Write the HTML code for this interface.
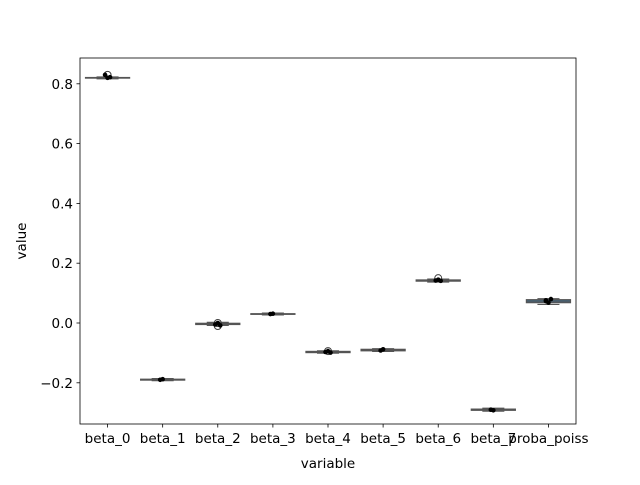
<!DOCTYPE html>
<html><head><meta charset="utf-8"><style>
body{margin:0;background:#fff;}
text{font-family:"DejaVu Sans","Liberation Sans",sans-serif;font-size:13.5px;fill:#000;}
</style></head><body>
<svg id="c" width="640" height="480" xmlns="http://www.w3.org/2000/svg"></svg>
<script>
const categories=["beta_0","beta_1","beta_2","beta_3","beta_4","beta_5","beta_6","beta_7","proba_poiss"];
const q1=[0.819,-0.191,-0.005,0.029,-0.099,-0.093,0.140,-0.292,0.068];
const medians=[0.820,-0.190,-0.003,0.030,-0.097,-0.091,0.142,-0.290,0.073];
const q3=[0.821,-0.188,-0.001,0.031,-0.095,-0.088,0.144,-0.288,0.078];
const whiskLo=[0.817,-0.193,-0.008,0.027,-0.101,-0.095,0.137,-0.295,0.062];
const whiskHi=[0.823,-0.186,0.002,0.033,-0.093,-0.086,0.147,-0.285,0.081];
const outliers=[[0.830],[],[0.000,-0.010],[],[-0.094],[],[0.150],[],[]];
const points=[[0.830,0.820,0.822],[-0.190,-0.188],[-0.005,0.000,-0.008],[0.030,0.031],[-0.097,-0.094,-0.099],[-0.092,-0.088],[0.142,0.145,0.141],[-0.290,-0.292],[0.073,0.068,0.080,0.076]];
const yTicks=[-0.2,0.0,0.2,0.4,0.6,0.8];
const colors=["#3274a1","#e1812c","#3a923a","#c03d3e","#9372b2","#845b53","#d684bd","#7f7f7f","#3274a1"];
const L=80,R=576,T=58,B=424;
const y=v=>323-v*299;
const bw=(R-L)/categories.length;
const x=i=>L+bw*(i+0.5);
const svg=document.getElementById('c');
const NS="http://www.w3.org/2000/svg";
function mk(t,a,p){const e=document.createElementNS(NS,t);for(const k in a)e.setAttribute(k,a[k]);(p||svg).appendChild(e);return e;}
categories.forEach((c,i)=>{
 const cx=x(i),hw=bw*0.4,g=mk('g',{});
 
 
 const ec='#555',sw=1.2;
 mk('line',{x1:cx,x2:cx,y1:y(whiskLo[i]),y2:y(q1[i]),stroke:ec,'stroke-width':sw},g);
 mk('line',{x1:cx,x2:cx,y1:y(q3[i]),y2:y(whiskHi[i]),stroke:ec,'stroke-width':sw},g);
 mk('line',{x1:cx-hw/2,x2:cx+hw/2,y1:y(whiskLo[i]),y2:y(whiskLo[i]),stroke:ec,'stroke-width':sw},g);
 mk('line',{x1:cx-hw/2,x2:cx+hw/2,y1:y(whiskHi[i]),y2:y(whiskHi[i]),stroke:ec,'stroke-width':sw},g);
 mk('rect',{x:cx-hw,y:y(q3[i]),width:2*hw,height:Math.max(0.5,y(q1[i])-y(q3[i])),fill:colors[i],stroke:ec,'stroke-width':sw},g);
 mk('line',{x1:cx-hw,x2:cx+hw,y1:y(medians[i]),y2:y(medians[i]),stroke:ec,'stroke-width':sw},g);
 outliers[i].forEach(v=>{const o=mk('circle',{cx:cx,cy:y(v),r:3.5,fill:'none',stroke:'#3f3f3f','stroke-width':1},g);
  
  });
 points[i].forEach((v,j)=>{const p=mk('circle',{cx:cx+((j%3)-1)*2.5,cy:y(v),r:2.3,fill:'#000'},g);
  
  });
 mk('line',{x1:cx,x2:cx,y1:B,y2:B+3.5,stroke:'#000','stroke-width':0.8});
 const t=mk('text',{x:cx,y:B+19,'text-anchor':'middle'});t.textContent=c;
 
 
});
yTicks.forEach(v=>{
 mk('line',{x1:L-3.5,x2:L,y1:y(v),y2:y(v),stroke:'#000','stroke-width':0.8});
 const t=mk('text',{x:L-7,y:y(v)+5,'text-anchor':'end'});t.textContent=(v<0?'\u2212':'')+Math.abs(v).toFixed(1);
 
 
});
const fr=mk('rect',{x:L,y:T,width:R-L,height:B-T,fill:'none',stroke:'#000','stroke-width':0.8});


const xt=mk('text',{x:(L+R)/2,y:468,'text-anchor':'middle'});xt.textContent='variable';


const yt=mk('text',{x:26,y:(T+B)/2,'text-anchor':'middle',transform:'rotate(-90 26 '+((T+B)/2)+')'});yt.textContent='value';


</script>
</body></html>
